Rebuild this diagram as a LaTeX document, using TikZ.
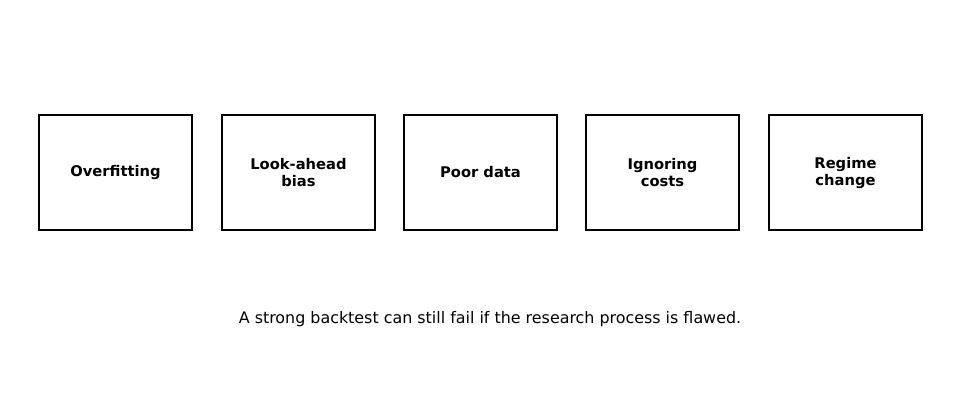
\documentclass[tikz,border=0pt]{standalone}
\usepackage{fontspec}
\setmainfont{DejaVu Sans}
\usetikzlibrary{positioning}
\tikzset{pitfall/.style={draw,line width=2pt,minimum width=153pt,minimum height=115pt,
  align=center,font=\fontsize{14.7}{17}\selectfont\bfseries,inner sep=0pt}}

\begin{document}
\begin{tikzpicture}[x=1pt,y=-1pt]
    \useasboundingbox (0,0) rectangle (980,407);
    \node[pitfall] (overfit) at (115.5,172.5) {Overfitting};
    \node[pitfall] (lookahead) at (298.5,172.5) {Look-ahead\\bias};
    \node[pitfall] (poordata) at (480.5,172.5) {Poor data};
    \node[pitfall] (costs) at (662.5,172.5) {Ignoring\\costs};
    \node[pitfall] (regime) at (845.5,172.5) {Regime\\change};
    \node[font=\fontsize{15.9}{19}\selectfont] (caption) at (490,319)
      {A strong backtest can still fail if the research process is flawed.};
  \end{tikzpicture}
\end{document}
